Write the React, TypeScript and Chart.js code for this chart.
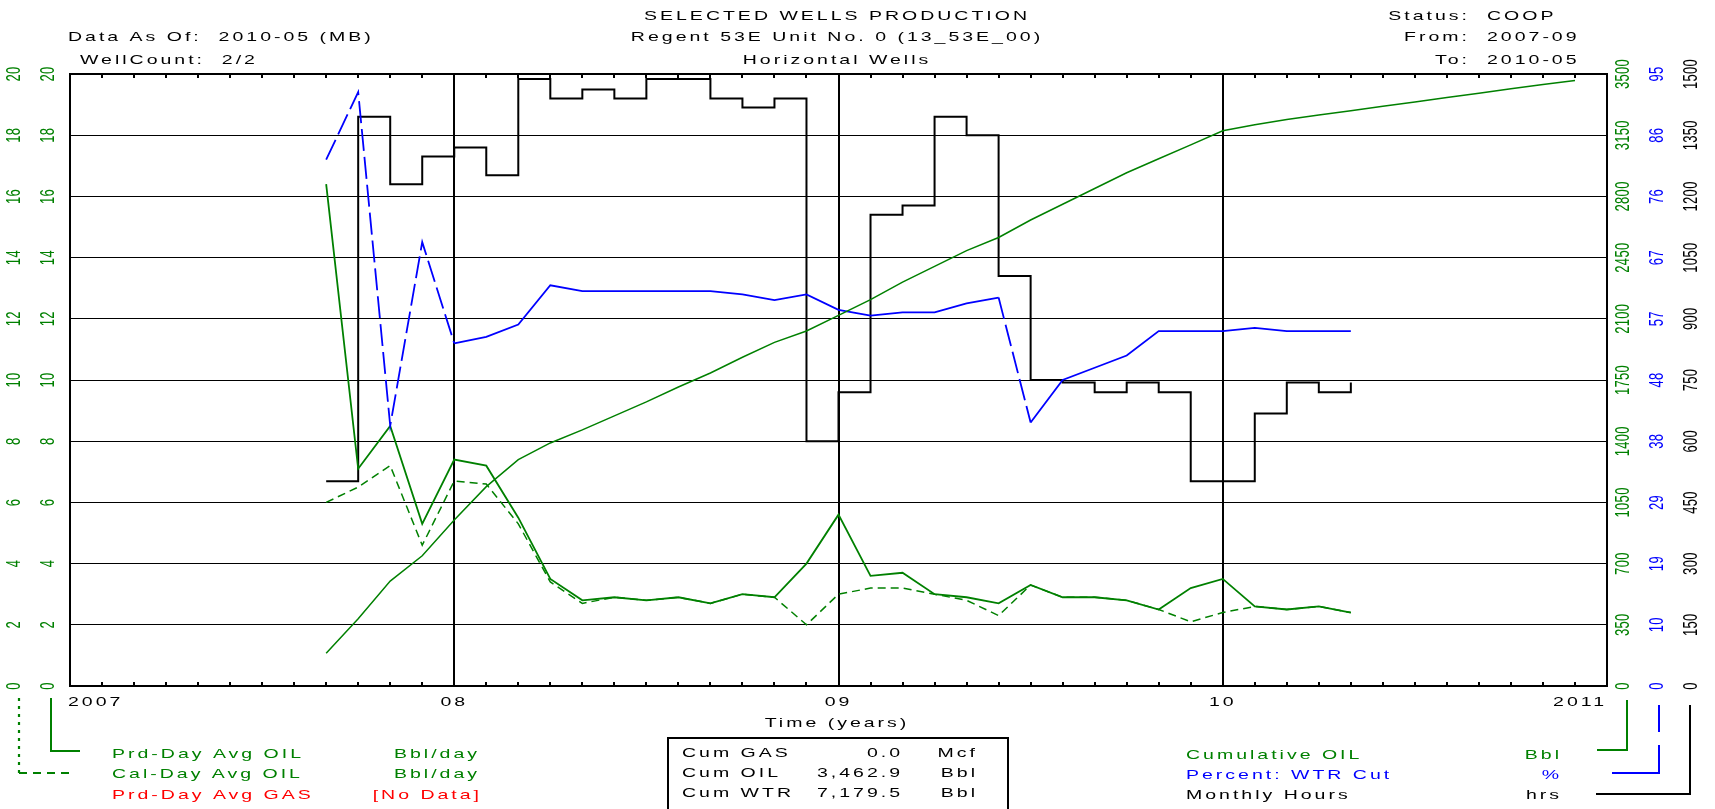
import React, { useEffect, useRef } from "react";
import { Chart, registerables } from "chart.js";
Chart.register(...registerables);

// ---------- DATA ----------
const months = [
  "2007-09", "2007-10", "2007-11", "2007-12",
  "2008-01", "2008-02", "2008-03", "2008-04", "2008-05", "2008-06", "2008-07", "2008-08", "2008-09", "2008-10", "2008-11", "2008-12",
  "2009-01", "2009-02", "2009-03", "2009-04", "2009-05", "2009-06", "2009-07", "2009-08", "2009-09", "2009-10", "2009-11", "2009-12",
  "2010-01", "2010-02", "2010-03", "2010-04", "2010-05",
];
const prdDayOil = [16.4, 7.1, 8.5, 5.3, 7.4, 7.2, 5.5, 3.5, 2.8, 2.9, 2.8, 2.9, 2.7, 3.0, 2.9, 4.0, 5.6, 3.6, 3.7, 3.0, 2.9, 2.7, 3.3, 2.9, 2.9, 2.8, 2.5, 3.2, 3.5, 2.6, 2.5, 2.6, 2.4];
const calDayOil = [6.0, 6.5, 7.2, 4.6, 6.7, 6.6, 5.3, 3.4, 2.7, 2.9, 2.8, 2.9, 2.7, 3.0, 2.9, 2.0, 3.0, 3.2, 3.2, 3.0, 2.8, 2.3, 3.3, 2.9, 2.9, 2.8, 2.5, 2.1, 2.4, 2.6, 2.5, 2.6, 2.4];
const wtrCutPct = [81.7, 92.2, 40.4, 68.9, 53.2, 54.2, 56.1, 62.2, 61.3, 61.3, 61.3, 61.3, 61.3, 60.8, 59.9, 60.8, 58.4, 57.5, 58.0, 58.0, 59.4, 60.3, 40.9, 47.5, 49.4, 51.3, 55.1, 55.1, 55.1, 55.6, 55.1, 55.1, 55.1];
const monthlyHours = [502, 1395, 1230, 1298, 1320, 1252, 1488, 1440, 1462, 1440, 1488, 1488, 1440, 1418, 1440, 600, 720, 1155, 1178, 1395, 1350, 1005, 750, 744, 720, 744, 720, 502, 502, 668, 744, 720, 744];
const cumMonths = [
  "2007-09", "2007-10", "2007-11", "2007-12",
  "2008-01", "2008-02", "2008-03", "2008-04", "2008-05", "2008-06", "2008-07", "2008-08", "2008-09", "2008-10", "2008-11", "2008-12",
  "2009-01", "2009-02", "2009-03", "2009-04", "2009-05", "2009-06", "2009-07", "2009-08", "2009-09", "2009-10", "2009-11", "2009-12",
  "2010-01", "2010-02", "2010-03", "2010-04", "2010-05", "2010-06", "2010-07", "2010-08", "2010-09", "2010-10", "2010-11", "2010-12",
];
const cumOil = [187, 385, 600, 745, 950, 1140, 1295, 1390, 1465, 1545, 1625, 1710, 1790, 1880, 1965, 2030, 2120, 2210, 2310, 2400, 2490, 2565, 2665, 2755, 2845, 2935, 3015, 3095, 3175, 3210, 3240, 3265, 3290, 3315, 3340, 3365, 3390, 3415, 3440, 3463];

const leftTicks = ["0", "2", "4", "6", "8", "10", "12", "14", "16", "18", "20"];
const cumTicks = ["0", "350", "700", "1050", "1400", "1750", "2100", "2450", "2800", "3150", "3500"];
const wtrTicks = ["0", "10", "19", "29", "38", "48", "57", "67", "76", "86", "95"];
const hrsTicks = ["0", "150", "300", "450", "600", "750", "900", "1050", "1200", "1350", "1500"];
const xTickLabels = ["2007", "08", "09", "10", "2011"];

const headerLeft = ["Data As Of:  2010-05 (MB)", "WellCount:  2/2"];
const titleLines = ["SELECTED WELLS PRODUCTION", "Regent 53E Unit No. 0 (13_53E_00)", "Horizontal Wells"];
const headerRightKeys = ["Status:", "From:", "To:"];
const headerRightVals = ["COOP", "2007-09", "2010-05"];
const statNames = ["Cum GAS", "Cum OIL", "Cum WTR"];
const statValues = ["0.0", "3,462.9", "7,179.5"];
const statUnits = ["Mcf", "Bbl", "Bbl"];

const GREEN = "#008000";
const BLUE = "#0000ff";
const RED = "#ff0000";
const BLACK = "#000000";

const toYear = (m: string) => {
  const [y, mo] = m.split("-").map(Number);
  return y + (mo - 1) / 12;
};

const SX = 1.5;
function txt(
  ctx: CanvasRenderingContext2D,
  s: string,
  x: number,
  y: number,
  color: string,
  align: CanvasTextAlign = "left",
  rot = false
) {
  ctx.save();
  ctx.font = '13px "Liberation Sans", Arial, sans-serif';
  ctx.fillStyle = color;
  ctx.textBaseline = "middle";
  (ctx as any).letterSpacing = rot ? "0.3px" : "2px";
  ctx.translate(x, y);
  ctx.scale(SX, 1);
  if (rot) {
    ctx.rotate(-Math.PI / 2);
    ctx.textAlign = "center";
  } else {
    ctx.textAlign = align;
  }
  ctx.fillText(s, 0, 0);
  ctx.restore();
}

function line(ctx: CanvasRenderingContext2D, pts: number[][], color: string, width = 1.5, dash: number[] = []) {
  ctx.save();
  ctx.strokeStyle = color;
  ctx.lineWidth = width;
  ctx.setLineDash(dash);
  ctx.beginPath();
  pts.forEach((p, i) => (i ? ctx.lineTo(p[0], p[1]) : ctx.moveTo(p[0], p[1])));
  ctx.stroke();
  ctx.restore();
}

const decorPlugin = {
  id: "decor",
  afterDraw(chart: any) {
    const ctx: CanvasRenderingContext2D = chart.ctx;
    const { left, right, top, bottom } = chart.chartArea;
    const xs = chart.scales.x;
    const ys = chart.scales.y;

    // minor monthly ticks
    ctx.save();
    ctx.strokeStyle = BLACK;
    ctx.lineWidth = 2;
    for (let m = 1; m < 48; m++) {
      const x = Math.round(xs.getPixelForValue(2007 + m / 12));
      ctx.beginPath();
      ctx.moveTo(x, top);
      ctx.lineTo(x, top + 4);
      ctx.moveTo(x, bottom);
      ctx.lineTo(x, bottom - 4);
      ctx.stroke();
    }
    ctx.lineWidth = 2;
    ctx.strokeRect(left, top, right - left, bottom - top);
    ctx.restore();

    // y labels (rotated)
    leftTicks.forEach((t, i) => {
      const y = ys.getPixelForValue(i * 2);
      txt(ctx, t, 15, y, GREEN, "center", true);
      txt(ctx, t, 49, y, GREEN, "center", true);
      txt(ctx, cumTicks[i], 1624, y, GREEN, "center", true);
      txt(ctx, wtrTicks[i], 1658, y, BLUE, "center", true);
      txt(ctx, hrsTicks[i], 1692, y, BLACK, "center", true);
    });

    // x labels
    xTickLabels.forEach((t, i) => {
      const x = xs.getPixelForValue(2007 + i);
      const al: CanvasTextAlign = i === 0 ? "left" : i === xTickLabels.length - 1 ? "right" : "center";
      txt(ctx, t, i === 0 ? x - 2 : x, 702, BLACK, al);
    });
    txt(ctx, "Time (years)", 837, 723, BLACK, "center");

    // header
    txt(ctx, headerLeft[0], 68, 37, BLACK, "left");
    txt(ctx, headerLeft[1], 80, 60, BLACK, "left");
    titleLines.forEach((t, i) => txt(ctx, t, 837, [16, 37, 60][i], BLACK, "center"));
    headerRightKeys.forEach((k, i) => {
      const y = [16, 37, 60][i];
      txt(ctx, k, 1470, y, BLACK, "right");
      txt(ctx, headerRightVals[i], 1487, y, BLACK, "left");
    });

    // left legend
    line(ctx, [[51, 698], [51, 751], [80, 751]], GREEN, 2);
    line(ctx, [[19, 698], [19, 773]], GREEN, 2.2, [3, 5]);
    line(ctx, [[19, 773], [74, 773]], GREEN, 2, [8, 6]);
    txt(ctx, "Prd-Day Avg OIL", 112, 754, GREEN);
    txt(ctx, "Bbl/day", 480, 754, GREEN, "right");
    txt(ctx, "Cal-Day Avg OIL", 112, 774, GREEN);
    txt(ctx, "Bbl/day", 480, 774, GREEN, "right");
    txt(ctx, "Prd-Day Avg GAS", 112, 795, RED);
    txt(ctx, "[No Data]", 482, 795, RED, "right");

    // stats box
    ctx.save();
    ctx.strokeStyle = BLACK;
    ctx.lineWidth = 2;
    ctx.beginPath();
    ctx.moveTo(668, 812);
    ctx.lineTo(668, 738);
    ctx.lineTo(1008, 738);
    ctx.lineTo(1008, 812);
    ctx.stroke();
    ctx.restore();
    statNames.forEach((n, i) => {
      const y = 753 + i * 20;
      txt(ctx, n, 682, y, BLACK);
      txt(ctx, statValues[i], 903, y, BLACK, "right");
      txt(ctx, statUnits[i], 978, y, BLACK, "right");
    });

    // right legend
    line(ctx, [[1627, 700], [1627, 750], [1597, 750]], GREEN, 2);
    line(ctx, [[1659, 705], [1659, 732]], BLUE, 2);
    line(ctx, [[1659, 745], [1659, 773], [1612, 773]], BLUE, 2);
    line(ctx, [[1690, 705], [1690, 794], [1596, 794]], BLACK, 2);
    txt(ctx, "Cumulative OIL", 1186, 755, GREEN);
    txt(ctx, "Bbl", 1562, 755, GREEN, "right");
    txt(ctx, "Percent: WTR Cut", 1186, 775, BLUE);
    txt(ctx, "%", 1562, 775, BLUE, "right");
    txt(ctx, "Monthly Hours", 1186, 795, BLACK);
    txt(ctx, "hrs", 1562, 795, BLACK, "right");
  },
};

export default function App() {
  const ref = useRef<HTMLCanvasElement>(null);
  useEffect(() => {
    document.body.style.margin = "0";
    const xs = months.map(toYear);
    const chart = new Chart(ref.current as HTMLCanvasElement, {
      type: "line",
      data: {
        datasets: [
          {
            label: "Cumulative OIL",
            data: cumMonths.map((m, i) => ({ x: toYear(m), y: cumOil[i] })),
            yAxisID: "yCum",
            borderColor: GREEN,
            borderWidth: 1.5,
          },
          {
            label: "Percent: WTR Cut",
            data: xs.map((x, i) => ({ x, y: wtrCutPct[i] })),
            yAxisID: "yWtr",
            borderColor: BLUE,
            borderWidth: 1.8,
            segment: {
              borderDash: (c: any) => (Math.abs(c.p1.y - c.p0.y) > 50 ? [22, 6] : []),
            },
          },
          {
            label: "Cal-Day Avg OIL",
            data: xs.map((x, i) => ({ x, y: calDayOil[i] })),
            yAxisID: "y",
            borderColor: GREEN,
            borderWidth: 1.5,
            borderDash: [8, 5],
          },
          {
            label: "Prd-Day Avg OIL",
            data: xs.map((x, i) => ({ x, y: prdDayOil[i] })),
            yAxisID: "y",
            borderColor: GREEN,
            borderWidth: 1.8,
          },
          {
            label: "Monthly Hours",
            data: xs.map((x, i) => ({ x, y: monthlyHours[i] })),
            yAxisID: "yHrs",
            borderColor: BLACK,
            borderWidth: 2,
            stepped: "before",
          },
        ],
      },
      options: {
        responsive: false,
        animation: false,
        devicePixelRatio: 1,
        layout: { padding: { left: 70, top: 74, right: 108, bottom: 123 } },
        elements: { point: { radius: 0 }, line: { tension: 0 } },
        plugins: { legend: { display: false }, tooltip: { enabled: false }, title: { display: false } },
        scales: {
          x: {
            type: "linear",
            min: 2007,
            max: 2011,
            ticks: { display: false, stepSize: 1 },
            grid: { color: BLACK, lineWidth: 2, drawTicks: false },
            border: { display: false },
          },
          y: {
            min: 0,
            max: 20,
            ticks: { display: false, stepSize: 2 },
            grid: { color: BLACK, lineWidth: 1, drawTicks: false },
            border: { display: false },
          },
          yCum: { display: false, min: 0, max: 3500 },
          yWtr: { display: false, min: 0, max: 95 },
          yHrs: { display: false, min: 0, max: 1500 },
        },
      } as any,
      plugins: [decorPlugin],
    });
    return () => chart.destroy();
  }, []);
  return (
    <div style={{ position: "absolute", left: 0, top: 0, width: 1715, height: 809, background: "#fff" }}>
      <canvas ref={ref} width={1715} height={809} />
    </div>
  );
}
